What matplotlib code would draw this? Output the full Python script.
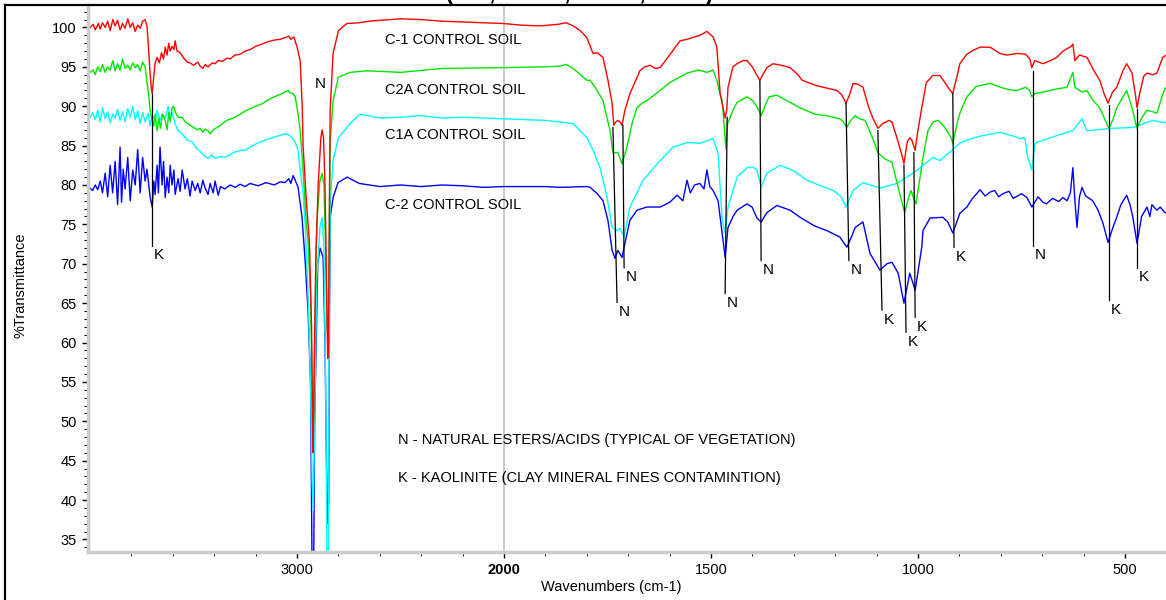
import numpy as np
import matplotlib
matplotlib.use("Agg")
import matplotlib.pyplot as plt
from matplotlib.lines import Line2D

plt.rcParams['font.family'] = ['Liberation Sans', 'DejaVu Sans']

# ---- spectra (wavenumber, %T) ----
red_wn = [4000, 3985, 3975, 3960, 3951, 3940, 3927, 3915, 3903, 3890, 3879, 3867, 3855, 3843, 3831, 3818,
          3806, 3794, 3782, 3770, 3758, 3746, 3734, 3725, 3719, 3712, 3705, 3700, 3693, 3686, 3676, 3665,
          3655, 3645, 3637, 3628, 3620, 3613, 3604, 3595, 3589, 3580, 3565, 3550, 3530, 3517, 3500, 3480,
          3468, 3455, 3444, 3430, 3410, 3396, 3380, 3360, 3340, 3323, 3300, 3275, 3251, 3227, 3200, 3169,
          3140, 3110, 3082, 3058, 3040, 3030, 3015, 3000, 2985, 2975, 2971, 2955, 2940, 2930, 2925, 2922,
          2918, 2910, 2898, 2885, 2879, 2872, 2865, 2858, 2852, 2848, 2843, 2840, 2826, 2800, 2760, 2700,
          2650, 2600, 2500, 2400, 2300, 2200, 2100, 2000, 1960, 1913, 1870, 1850, 1833, 1816, 1800, 1785,
          1775, 1761, 1749, 1739, 1735, 1730, 1725, 1720, 1715, 1708, 1696, 1680, 1672, 1660, 1647, 1635,
          1623, 1600, 1575, 1558, 1540, 1527, 1510, 1495, 1486, 1478, 1470, 1466, 1462, 1459, 1447, 1437,
          1423, 1413, 1399, 1390, 1382, 1375, 1365, 1350, 1330, 1309, 1290, 1280, 1260, 1244, 1220, 1196,
          1185, 1174, 1165, 1157, 1145, 1133, 1120, 1110, 1097, 1085, 1070, 1063, 1051, 1040, 1034, 1026,
          1020, 1015, 1007, 1000, 991, 980, 964, 947, 935, 925, 916, 905, 899, 882, 867, 850, 826, 802,
          785, 760, 740, 730, 725, 718, 698, 680, 665, 650, 630, 626, 621, 610, 592, 575, 561, 550, 541,
          530, 520, 505, 496, 483, 475, 471, 465, 455, 447, 433, 423, 409, 400]
red_t = [100.0, 100.4, 99.7, 100.5, 99.8, 100.6, 100.0, 100.8, 99.6, 101.0, 100.2, 100.9, 99.7, 100.5, 99.9, 101.1,
         100.0, 100.6, 99.5, 100.3, 99.9, 100.8, 101.0, 100.2, 98.0, 95.0, 92.5, 91.6, 93.5, 95.5, 96.2, 95.5,
         96.8, 96.0, 97.5, 96.5, 98.0, 97.0, 97.6, 97.2, 98.3, 97.0, 96.8, 96.2, 95.6, 95.5, 95.2, 95.6,
         95.1, 94.8, 95.3, 95.0, 95.5, 95.4, 95.8, 95.7, 96.1, 96.0, 96.5, 96.6, 97.0, 97.2, 97.6, 97.9,
         98.2, 98.4, 98.5, 98.7, 98.9, 98.5, 98.8, 97.5, 95.8, 90.0, 85.0, 78.0, 72.6, 62.0, 50.0, 46.0,
         55.0, 70.0, 80.0, 86.0, 87.0, 86.0, 80.0, 68.0, 58.0, 60.0, 80.0, 89.5, 96.7, 99.6, 100.5, 100.6,
         100.8, 100.9, 101.1, 101.0, 100.8, 100.7, 100.6, 100.5, 100.3, 100.2, 100.4, 100.6, 100.2, 99.6, 98.7, 96.7,
         96.8, 96.2, 93.3, 90.4, 87.6, 88.0, 88.2, 88.0, 87.6, 89.5, 91.6, 93.5, 94.5, 95.0, 95.2, 94.8,
         94.9, 96.5, 98.3, 98.5, 98.8, 99.0, 99.5, 98.8, 97.5, 91.6, 89.5, 88.5, 89.5, 92.4, 95.0, 95.4,
         95.8, 95.8, 94.9, 94.0, 93.3, 94.0, 94.9, 95.4, 95.2, 94.9, 94.0, 93.3, 92.9, 92.6, 92.3, 92.0,
         91.5, 90.4, 91.5, 92.9, 92.8, 92.4, 90.0, 88.6, 87.2, 87.8, 88.2, 88.0, 86.0, 84.0, 82.7, 85.5,
         86.0, 85.7, 84.4, 87.0, 89.8, 93.0, 93.9, 93.9, 93.0, 92.2, 91.6, 94.0, 95.4, 96.6, 97.1, 97.5, 97.5, 96.7,
         96.5, 96.7, 96.6, 96.0, 94.9, 95.8, 95.4, 95.8, 96.2, 97.0, 97.6, 97.9, 95.8, 96.5, 96.2, 94.5, 93.3, 91.5, 90.4,
         91.8, 92.4, 94.5, 95.4, 94.2, 91.5, 89.8, 91.5, 93.8, 94.2, 94.0, 94.2, 96.2, 96.5]

green_wn = [4000, 3985, 3975, 3963, 3951, 3940, 3927, 3915, 3903, 3890, 3879, 3867, 3855, 3843, 3831, 3818,
            3806, 3794, 3782, 3770, 3758, 3746, 3734, 3725, 3719, 3710, 3700, 3692, 3685, 3676, 3668, 3660,
            3650, 3637, 3628, 3620, 3613, 3604, 3596, 3589, 3575, 3555, 3540, 3517, 3500, 3480, 3468, 3455,
            3445, 3430, 3420, 3400, 3380, 3360, 3340, 3299, 3275, 3250, 3227, 3200, 3169, 3140, 3110, 3082,
            3060, 3043, 3034, 3020, 3009, 2995, 2985, 2971, 2955, 2947, 2935, 2925, 2920, 2915, 2905, 2890,
            2879, 2870, 2862, 2855, 2850, 2845, 2840, 2826, 2800, 2744, 2662, 2500, 2300, 2000, 1900, 1865,
            1850, 1833, 1800, 1792, 1775, 1761, 1744, 1737, 1725, 1715, 1705, 1701, 1690, 1679, 1664, 1655,
            1623, 1600, 1558, 1530, 1510, 1495, 1486, 1478, 1473, 1466, 1464, 1460, 1447, 1437, 1413, 1399,
            1390, 1382, 1379, 1370, 1360, 1341, 1320, 1285, 1250, 1220, 1189, 1180, 1172, 1165, 1152, 1140,
            1128, 1110, 1097, 1080, 1063, 1048, 1040, 1032, 1025, 1017, 1012, 1005, 995, 988, 976, 964,
            952, 940, 930, 920, 916, 905, 899, 882, 860, 826, 800, 780, 761, 740, 730, 725, 718, 698,
            681, 665, 640, 626, 621, 604, 592, 578, 561, 550, 539, 529, 520, 505, 496, 483, 475, 471,
            460, 447, 433, 423, 409, 404, 400]
green_t = [94.3, 94.6, 94.0, 95.0, 94.4, 95.3, 94.3, 95.0, 94.6, 95.8, 94.5, 95.4, 94.6, 96.0, 94.8, 95.2,
           94.6, 95.5, 94.9, 95.3, 94.5, 95.6, 95.0, 93.0, 92.0, 89.5, 88.2, 87.5, 89.0, 86.9, 88.5, 87.2,
           89.0, 88.2, 87.0, 89.2, 88.0, 89.8, 90.0, 89.3, 88.6, 88.6, 88.0, 87.6, 87.3, 87.0, 87.2, 86.7,
           87.1, 86.9, 86.5, 87.1, 87.4, 87.8, 88.2, 88.6, 89.0, 89.4, 89.7, 90.0, 90.3, 90.8, 91.2, 91.5,
           91.8, 92.0, 91.7, 91.6, 91.2, 89.0, 86.9, 82.0, 75.0, 73.0, 66.0, 52.0, 50.0, 60.0, 75.0, 80.5,
           81.5, 80.0, 72.0, 62.0, 60.0, 72.0, 85.3, 90.7, 93.7, 94.3, 94.5, 94.3, 94.8, 94.9, 95.0, 95.1,
           95.3, 94.8, 93.3, 93.3, 92.0, 90.7, 86.9, 84.1, 84.1, 82.7, 84.5, 85.3, 88.0, 89.8, 90.5, 90.7,
           92.0, 93.0, 94.2, 94.6, 94.3, 94.6, 93.3, 91.5, 90.7, 86.0, 84.6, 87.8, 89.5, 90.5, 91.2, 90.7,
           90.0, 89.2, 88.8, 90.0, 91.2, 91.4, 90.8, 89.8, 89.0, 88.8, 88.4, 88.0, 87.3, 88.0, 88.8, 88.4,
           88.2, 86.0, 84.1, 83.3, 82.9, 79.7, 78.0, 76.5, 78.0, 79.3, 78.5, 77.6, 81.0, 83.5, 86.9, 88.0,
           88.2, 87.6, 86.9, 86.0, 85.3, 88.0, 89.1, 91.2, 92.5, 92.9, 92.4, 92.1, 92.0, 92.4, 92.0, 91.2, 91.6, 91.8,
           92.0, 92.2, 92.4, 94.3, 92.4, 91.8, 92.0, 90.8, 89.8, 88.5, 87.2, 88.3, 89.8, 91.2, 92.0, 89.8, 88.0, 87.2,
           88.5, 89.5, 89.3, 89.1, 91.5, 92.2, 92.4]

cyan_wn = [4000, 3988, 3975, 3963, 3951, 3940, 3927, 3915, 3903, 3890, 3879, 3867, 3855, 3843, 3831, 3818,
           3806, 3794, 3782, 3770, 3758, 3746, 3734, 3719, 3710, 3700, 3686, 3676, 3662, 3650, 3637, 3623,
           3613, 3604, 3589, 3575, 3555, 3530, 3507, 3490, 3470, 3459, 3444, 3430, 3415, 3396, 3370, 3348,
           3320, 3299, 3270, 3251, 3227, 3200, 3154, 3120, 3082, 3060, 3043, 3024, 3009, 2995, 2985, 2971,
           2961, 2947, 2935, 2927, 2922, 2915, 2905, 2890, 2879, 2870, 2862, 2855, 2848, 2845, 2840, 2826,
           2800, 2744, 2696, 2599, 2500, 2400, 2300, 2200, 2000, 1900, 1865, 1833, 1800, 1785, 1768, 1751,
           1739, 1727, 1720, 1710, 1696, 1664, 1623, 1592, 1558, 1527, 1495, 1483, 1473, 1466, 1459, 1437,
           1413, 1399, 1389, 1379, 1365, 1333, 1300, 1268, 1230, 1205, 1185, 1174, 1157, 1133, 1092, 1051,
           1012, 964, 947, 899, 882, 850, 802, 770, 754, 742, 735, 725, 718, 681, 626, 604, 592, 529,
           481, 433, 404, 400]
cyan_t = [88.6, 89.2, 88.3, 89.5, 88.0, 89.8, 88.4, 89.3, 87.9, 89.0, 88.5, 89.6, 88.2, 89.3, 88.0, 89.7,
          88.6, 90.0, 88.3, 89.4, 87.8, 89.2, 88.0, 89.1, 87.5, 88.8, 88.2, 89.5, 88.2, 89.0, 88.4, 90.0,
          88.5, 89.2, 87.8, 86.9, 86.5, 85.7, 85.5, 84.8, 84.3, 84.0, 83.6, 83.4, 83.8, 83.4, 83.6, 83.5,
          83.9, 84.2, 84.4, 84.4, 84.8, 85.2, 85.7, 86.0, 86.3, 86.5, 86.4, 86.0, 85.4, 84.4, 81.9, 79.0,
          75.1, 66.2, 55.0, 42.0, 38.7, 50.0, 68.0, 74.5, 75.9, 72.0, 55.0, 32.0, 32.0, 60.0, 77.7, 83.1,
          86.0, 87.8, 89.0, 88.5, 88.6, 88.8, 88.5, 88.6, 88.4, 88.2, 88.0, 87.8, 86.0, 84.4, 82.2, 78.4,
          74.6, 74.2, 74.5, 73.4, 77.2, 80.6, 83.1, 84.8, 85.4, 85.3, 85.9, 84.0, 75.5, 73.9, 77.2, 81.0,
          82.2, 82.3, 81.9, 79.7, 81.5, 82.5, 81.8, 80.6, 79.8, 79.3, 78.5, 77.2, 79.3, 80.3, 79.6, 80.2,
          81.5, 83.5, 83.1, 85.3, 85.7, 86.2, 86.7, 86.2, 85.9, 86.0, 83.5, 81.9, 85.3, 86.0, 86.9, 88.4, 86.9, 87.2,
          87.3, 88.2, 87.9, 88.0]

blue_wn = [4000, 3988, 3975, 3963, 3951, 3940, 3927, 3915, 3903, 3891, 3879, 3867, 3855, 3848, 3840, 3831,
           3818, 3806, 3794, 3782, 3770, 3758, 3746, 3734, 3725, 3710, 3700, 3692, 3686, 3676, 3670, 3662,
           3652, 3645, 3637, 3628, 3620, 3613, 3604, 3595, 3589, 3575, 3565, 3555, 3541, 3530, 3517, 3507,
           3492, 3480, 3468, 3455, 3444, 3430, 3420, 3405, 3396, 3381, 3370, 3350, 3323, 3299, 3275, 3251,
           3227, 3188, 3150, 3110, 3082, 3058, 3040, 3030, 3019, 3009, 2995, 2976, 2961, 2947, 2935, 2927,
           2920, 2915, 2900, 2889, 2874, 2865, 2858, 2852, 2847, 2843, 2840, 2826, 2802, 2758, 2700, 2600,
           2500, 2400, 2300, 2200, 2100, 2000, 1900, 1865, 1800, 1792, 1775, 1761, 1749, 1739, 1732, 1725,
           1715, 1708, 1696, 1679, 1655, 1623, 1600, 1582, 1568, 1558, 1550, 1540, 1527, 1517, 1510, 1503,
           1495, 1483, 1471, 1466, 1459, 1447, 1437, 1413, 1401, 1389, 1379, 1365, 1341, 1309, 1285, 1250,
           1220, 1189, 1172, 1160, 1152, 1133, 1116, 1092, 1075, 1063, 1048, 1034, 1020, 1012, 1007, 991,
           988, 971, 940, 928, 916, 899, 882, 870, 850, 838, 826, 815, 805, 795, 780, 770, 760, 750,
           737, 725, 710, 698, 690, 675, 660, 650, 640, 632, 626, 621, 616, 610, 604, 595, 578, 565,
           553, 541, 530, 520, 510, 496, 488, 481, 471, 460, 447, 440, 435, 423, 415, 404, 400]
blue_t = [79.6, 79.3, 80.0, 79.4, 80.5, 79.0, 81.5, 78.5, 82.5, 79.0, 83.0, 77.5, 84.8, 77.8, 82.0, 79.5,
          83.5, 78.0, 81.9, 80.0, 84.5, 79.0, 83.5, 80.5, 82.0, 78.5, 77.2, 80.5, 78.8, 82.5, 79.0, 84.8,
          80.0, 83.0, 78.4, 81.0, 79.0, 82.5, 80.0, 81.9, 78.8, 80.8, 79.2, 81.9, 79.5, 80.8, 78.6, 80.5,
          79.3, 80.2, 79.0, 80.6, 79.6, 78.8, 80.2, 79.0, 80.5, 78.7, 79.8, 79.5, 80.0, 79.7, 80.1, 79.8,
          80.2, 79.9, 80.3, 80.0, 80.4, 80.3, 80.8, 80.2, 81.2, 80.6, 79.7, 75.9, 70.4, 64.1, 55.0, 30.0,
          30.0, 50.0, 70.0, 72.0, 70.8, 60.0, 45.0, 37.0, 40.0, 65.0, 75.9, 78.4, 80.3, 81.0, 80.2, 79.8,
          80.0, 79.8, 80.0, 79.9, 79.7, 79.8, 79.8, 79.7, 79.8, 79.7, 78.9, 78.0, 75.5, 71.7, 70.7, 71.7,
          70.8, 72.6, 75.5, 76.8, 77.2, 77.2, 77.8, 78.7, 78.0, 80.6, 79.0, 80.0, 80.2, 79.5, 81.9, 79.8,
          79.3, 78.0, 73.0, 70.8, 74.6, 76.0, 76.8, 77.6, 77.2, 75.8, 75.3, 76.5, 77.4, 76.8, 75.9, 74.8,
          74.2, 73.4, 72.1, 73.5, 74.6, 75.3, 71.3, 69.2, 70.0, 70.2, 68.8, 65.0, 68.8, 67.5, 66.6, 72.1,
          74.2, 75.8, 75.9, 75.3, 73.9, 76.4, 77.2, 78.2, 79.4, 78.6, 79.1, 79.3, 78.5, 78.9, 79.2, 78.3, 78.6, 78.9,
          78.4, 77.2, 78.5, 77.8, 77.6, 78.3, 77.9, 78.4, 78.0, 79.0, 82.2, 78.0, 74.6, 78.5, 79.7, 78.6, 78.0, 76.8,
          75.1, 72.7, 74.5, 75.9, 77.5, 78.7, 77.5, 75.9, 72.6, 76.0, 77.2, 76.0, 77.5, 76.8, 77.2, 76.5, 76.5]

# peak assignment markers: (wavenumber top, %T top, wavenumber end, %T end, label)
ann_wn_top = [3700, 1737, 1713, 1461, 1382, 1174, 1097, 1034, 1010, 916, 722, 539, 471]
ann_t_top = [91.6, 87.3, 87.6, 88.6, 93.3, 90.4, 86.9, 82.5, 84.1, 91.6, 94.5, 90.1, 89.7]
ann_wn_end = [3700, 1727, 1710, 1466, 1379, 1167, 1087, 1029, 1007, 913, 722, 539, 471]
ann_t_end = [72.3, 65.1, 69.5, 66.2, 70.4, 70.4, 64.1, 61.3, 63.2, 72.1, 72.3, 65.4, 69.5]
ann_labels = ["K", "N", "N", "N", "N", "N", "K", "K", "K", "K", "N", "K", "K"]

series_names = ["C-1 CONTROL SOIL", "C2A CONTROL SOIL", "C1A CONTROL SOIL", "C-2 CONTROL SOIL"]
name_t = [98.35, 92.0, 86.4, 77.5]


def fwd(w):
    w = np.asarray(w, dtype=float)
    return np.where(w > 2000, 2000 + (w - 2000) / 2.0, w)


def inv(u):
    u = np.asarray(u, dtype=float)
    return np.where(u > 2000, 2000 + (u - 2000) * 2.0, u)


fig = plt.figure(figsize=(11.66, 6.0), dpi=100)
ax = fig.add_axes([88 / 1166, 48 / 600, 1078 / 1166, 545 / 600])
ax.set_xscale('function', functions=(fwd, inv))

ax.axvline(2000, color='#c4c4c4', lw=1.2, zorder=0)

ax.plot(blue_wn, blue_t, color='#0000ff', lw=1.0)
ax.plot(cyan_wn, cyan_t, color='#00ffff', lw=1.0)
ax.plot(green_wn, green_t, color='#00e600', lw=1.0)
ax.plot(red_wn, red_t, color='#ff0000', lw=1.0)

for wt, tt, we, te, lab in zip(ann_wn_top, ann_t_top, ann_wn_end, ann_t_end, ann_labels):
    ax.plot([wt, we], [tt, te], color='black', lw=0.9)
    ax.annotate(lab, xy=(we, te), xytext=(5, -7), textcoords='offset points',
                ha='center', va='center', fontsize=11)

ax.text(2889, 92.8, "N", ha='center', va='center', fontsize=11)

for name, t in zip(series_names, name_t):
    ax.text(2575, t, name, ha='left', va='center', fontsize=10.5)

ax.text(2512, 47.6, "N - NATURAL ESTERS/ACIDS (TYPICAL OF VEGETATION)", ha='left', va='center', fontsize=10.5)
ax.text(2512, 42.8, "K - KAOLINITE (CLAY MINERAL FINES CONTAMINTION)", ha='left', va='center', fontsize=10.5)

ax.set_xlim(4010, 401)
ax.set_ylim(33.4, 102.6)

ax.set_xticks([3000, 2000, 1500, 1000, 500], ["3000", "2000", "1500", "1000", "500"])
ax.get_xticklabels()[1].set_fontweight('bold')
minor_x = [w for w in range(3800, 2000, -200)] + [w for w in range(1900, 400, -100) if w % 500 != 0]
ax.set_xticks(minor_x, minor=True)
ax.set_yticks(range(35, 101, 5))
ax.set_yticks(range(34, 103), minor=True)
ax.tick_params(axis='both', which='major', labelsize=10.5, color='black', width=1)
ax.tick_params(axis='x', which='major', length=4, pad=4)
ax.tick_params(axis='x', which='minor', length=3)
ax.tick_params(axis='y', which='major', length=4, pad=4)
ax.tick_params(axis='y', which='minor', length=3, width=0.8)

for side in ['top', 'right']:
    ax.spines[side].set_visible(False)
for side in ['left', 'bottom']:
    ax.spines[side].set_color('#cccccc')
    ax.spines[side].set_linewidth(2.5)

ax.set_xlabel("Wavenumbers (cm-1)", fontsize=10.5)
ax.xaxis.set_label_coords((611 - 88) / 1078, -0.051)
ax.set_ylabel("%Transmittance", fontsize=10.5)
ax.yaxis.set_label_coords(-0.056, 0.49)

# frame and the title of the original page, cut by the top edge as in the source
fig.add_artist(Line2D([5 / 1166, 5 / 1166], [0, 1 - 5 / 600], color='black', lw=1.6))
fig.add_artist(Line2D([5 / 1166, 1], [1 - 5 / 600, 1 - 5 / 600], color='black', lw=1.6))
fig.text(0.497, 1.0, "(C-1,    C2A,    C1A,    C-2)", ha='center', va='baseline',
         fontsize=16, fontweight='bold')

fig.savefig("out.png", dpi=100)
